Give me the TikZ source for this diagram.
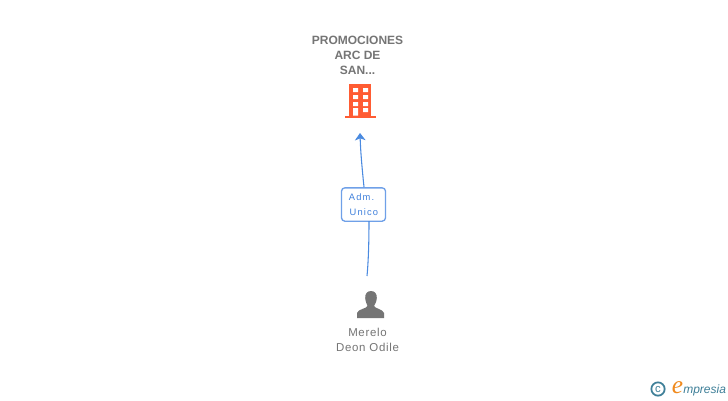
\documentclass[tikz,border=0pt]{standalone}
\usepackage{fontspec}
\setmainfont{Liberation Sans}
\newfontfamily\spaced[LetterSpace=6]{Liberation Sans}
\newfontfamily\wider[LetterSpace=12]{Liberation Sans}
\newfontfamily\logofont{Liberation Serif}
\usetikzlibrary{arrows.meta}
\definecolor{txtgrey}{HTML}{757575}
\definecolor{linkblue}{HTML}{4A8AE0}
\definecolor{boxblue}{HTML}{6FA0E8}
\definecolor{roletext}{HTML}{3F80DC}
\definecolor{bldorange}{HTML}{FF5C33}
\definecolor{logoteal}{HTML}{3E7F98}
\definecolor{logoorange}{HTML}{F08A1E}
\tikzset{
  x=0.75pt,y=-0.75pt,
  company/.style={font=\fontsize{9}{11.2}\selectfont\bfseries,text=txtgrey,align=center,inner sep=0pt},
  person/.style={font=\spaced\fontsize{8.6}{11.2}\selectfont,text=txtgrey,align=center,inner sep=0pt},
  rolebox/.style={draw=boxblue,line width=1pt,rounded corners=2.5pt,fill=white,minimum width=33pt,minimum height=25pt,inner sep=0pt,
    text=roletext,align=left,font=\wider\fontsize{7}{11.2}\selectfont},
  link/.style={draw=linkblue,line width=0.8pt},
  linkarrow/.style={link,-{Stealth[length=5.5pt,width=8pt,inset=1.5pt]}}
}
\begin{document}
\begin{tikzpicture}
\useasboundingbox (0,0) rectangle (728,400);
\fill[white] (0,0) rectangle (728,400);
% company label
\node[company] (comp) at (357.5,55) {PROMOCIONES\\ARC DE\\SAN...};
% building
\fill[bldorange] (349,84) rectangle (371,116);
\fill[bldorange] (344.5,115.5) rectangle (376,118);
\fill[white] (353,88) rectangle (358,92) (363,88) rectangle (368,92)
  (353,95) rectangle (358,99) (363,95) rectangle (368,99)
  (353,102) rectangle (358,106) (363,102) rectangle (368,106)
  (353,108) rectangle (358,115.5) (363,108) rectangle (368,112);
\coordinate (bldbase) at (360,133);
% role box
\node[rolebox] (role) at (363.5,204.5) {Adm.\\\hspace{0.5pt}Unico};
\coordinate (roletop) at (364,187);
\coordinate (rolebot) at (369,221);
\coordinate (persontop) at (367,276);
\draw[linkarrow] (roletop) .. controls (362,168) and (360.5,150) .. (bldbase);
\draw[link] (rolebot) .. controls (369,240) and (368.5,260) .. (persontop);
% person icon
\fill[txtgrey] (371,291) .. controls (367,291) and (365,294) .. (365.2,298)
  .. controls (365.4,302) and (367,304) .. (367.5,306)
  .. controls (367,308.5) and (358,309) .. (357,313) -- (357,318) -- (384,318) -- (384,313)
  .. controls (383,309) and (374.5,308.5) .. (374,306)
  .. controls (375,304) and (376.6,302) .. (376.8,298)
  .. controls (377,294) and (375,291) .. (371,291) -- cycle;
\node[person] (pers) at (367.5,339.5) {Merelo\\Deon Odile};
% logo
\node[draw=logoteal,line width=1.3pt,circle,minimum size=10pt,inner sep=0pt,text=logoteal,font=\fontsize{8.5}{8.5}\selectfont] (copy) at (658,389) {c};
\node[inner sep=0pt,text=logoorange,font=\logofont\itshape\fontsize{19}{19}\selectfont] (loge) at (677.5,387.5) {e};
\node[inner sep=0pt,anchor=base west,text=logoteal,font=\itshape\fontsize{9}{10}\selectfont] (logo) at (683,393) {mpresia};
\end{tikzpicture}
\end{document}
